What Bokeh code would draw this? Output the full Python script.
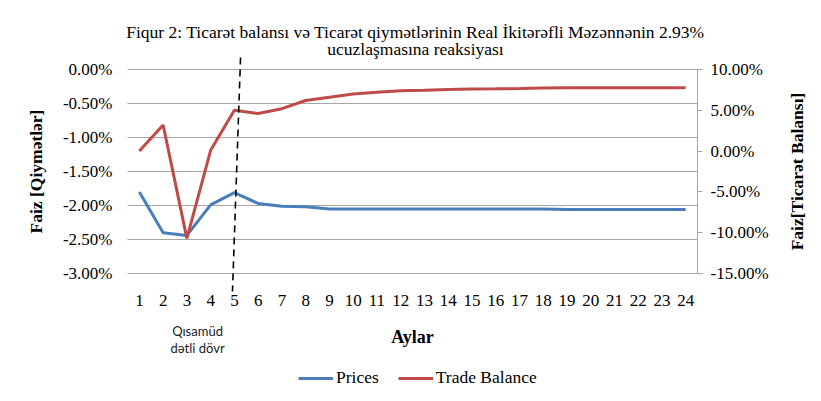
import math
from bokeh.plotting import figure
from bokeh.models import (Range1d, LinearAxis, FixedTicker, PrintfTickFormatter,
                          Legend, LegendItem, Arrow, ColumnDataSource, Label)
from bokeh.embed import file_html
from bokeh.resources import INLINE

# ---- data ----
months = list(range(1, 25))
month_labels = [str(m) for m in months]
prices = [-1.80, -2.40, -2.44, -1.99, -1.81, -1.97, -2.01, -2.02, -2.05, -2.05,
          -2.05, -2.05, -2.05, -2.05, -2.05, -2.05, -2.05, -2.05, -2.06, -2.06,
          -2.06, -2.06, -2.06, -2.06]
trade_balance = [0.0, 3.2, -10.7, 0.1, 5.0, 4.6, 5.2, 6.2, 6.6, 7.0,
                 7.2, 7.4, 7.45, 7.55, 7.6, 7.63, 7.67, 7.73, 7.76, 7.76,
                 7.76, 7.76, 7.76, 7.76]
left_ticks = [-3.0, -2.5, -2.0, -1.5, -1.0, -0.5, 0.0]
right_ticks = [-15.0, -10.0, -5.0, 0.0, 5.0, 10.0]
short_run_end = 5
note_pos = 3.45

title_1 = "Fiqur 2: Ticarət balansı və Ticarət qiymətlərinin Real İkitərəfli Məzənnənin 2.93%"
title_2 = "ucuzlaşmasına reaksiyası"
note_1 = "Qısamüd"
note_2 = "dətli dövr"
x_label = "Aylar"
left_label = "Faiz [Qiymətlər]"
right_label = "Faiz[Ticarət Balansı]"

SERIF = "Liberation Serif"
BLUE = "#4A7EBB"
RED = "#BE4B48"
GRID = "#A6A6A6"

# ---- geometry: the frame covers the whole canvas; the plot area is
#      x 0.5..24.5 and y -3..0 inside it ----
W, H = 821, 401
PX0, PX1, PY0, PY1 = 127, 697, 69, 273          # plot-area pixels
X0, X1 = 0.5, 24.5
Y_TOP, Y_BOT = 0.0, -3.0
R_TOP, R_BOT = 10.0, -15.0
xs = (PX1 - PX0) / (X1 - X0)
ys = (PY1 - PY0) / (Y_TOP - Y_BOT)
rs = (PY1 - PY0) / (R_TOP - R_BOT)
x_range = Range1d(X0 - PX0 / xs, X1 + (W - PX1) / xs)
y_range = Range1d(Y_BOT - (H - PY1) / ys, Y_TOP + PY0 / ys)
r_range = Range1d(R_BOT - (H - PY1) / rs, R_TOP + PY0 / rs)

def px_to_x(px):
    return X0 + (px - PX0) / xs

def py_to_y(py):
    return Y_TOP - (py - PY0) / ys

src = ColumnDataSource(dict(x=months, prices=prices, tb=trade_balance))

p = figure(width=W, height=H, x_range=x_range, y_range=y_range,
           output_backend="svg", toolbar_location=None,
           min_border=0, outline_line_color=None)
p.title.visible = False
p.extra_y_ranges = {"tb": r_range}

# grid lines (horizontal only, confined to the plot area)
p.xgrid.grid_line_color = None
p.ygrid.grid_line_color = None
p.segment(x0=[X0] * len(left_ticks), x1=[X1] * len(left_ticks),
          y0=left_ticks, y1=left_ticks, line_color=GRID, line_width=1)

r1 = p.line("x", "prices", source=src, line_color=BLUE, line_width=3)
r2 = p.line("x", "tb", source=src, line_color=RED, line_width=3, y_range_name="tb")

# x axis
xa = p.xaxis[0]
xa.fixed_location = Y_BOT
xa.bounds = (X0, X1)
xa.ticker = FixedTicker(ticks=months)
xa.major_label_overrides = {m: l for m, l in zip(months, month_labels)}
xa.axis_line_color = None
xa.major_tick_line_color = None
xa.major_tick_out = 0
xa.major_tick_in = 0
xa.minor_tick_line_color = None
xa.major_label_text_font = SERIF
xa.major_label_text_font_size = "17px"
xa.major_label_text_color = "black"
xa.major_label_standoff = 21
xa.axis_label = x_label
xa.axis_label_text_font = SERIF
xa.axis_label_text_font_style = "bold"
xa.axis_label_text_font_size = "18px"
xa.axis_label_text_color = "black"
xa.axis_label_standoff = 18

# left axis
ya = p.yaxis[0]
ya.fixed_location = X0
ya.bounds = (Y_BOT, Y_TOP)
ya.ticker = FixedTicker(ticks=left_ticks)
ya.formatter = PrintfTickFormatter(format="%.2f%%")
ya.axis_line_color = None
ya.major_tick_line_color = None
ya.major_tick_out = 0
ya.major_tick_in = 0
ya.minor_tick_line_color = None
ya.major_label_text_font = SERIF
ya.major_label_text_font_size = "17px"
ya.major_label_text_color = "black"
ya.major_label_standoff = 15
ya.axis_label = left_label
ya.axis_label_text_font = SERIF
ya.axis_label_text_font_style = "bold"
ya.axis_label_text_font_size = "17.5px"
ya.axis_label_text_color = "black"
ya.axis_label_standoff = 14

# right axis
ra = LinearAxis(y_range_name="tb", ticker=FixedTicker(ticks=right_ticks),
                formatter=PrintfTickFormatter(format="%.2f%%"),
                fixed_location=X1, bounds=(R_BOT, R_TOP))
ra.axis_line_color = GRID
ra.major_tick_line_color = GRID
ra.major_tick_in = 0
ra.major_tick_out = 5
ra.minor_tick_line_color = None
ra.major_label_text_font = SERIF
ra.major_label_text_font_size = "17px"
ra.major_label_text_color = "black"
ra.major_label_standoff = 8
p.add_layout(ra, "right")

p.add_layout(Label(x=px_to_x(796), y=(Y_TOP + Y_BOT) / 2, text=right_label,
                   angle=math.pi / 2, text_align="center", text_baseline="middle",
                   text_font=SERIF, text_font_style="bold", text_font_size="17.5px",
                   text_color="black"))

# dashed separator for the short-run period
p.add_layout(Arrow(end=None, x_start=short_run_end + 0.26, y_start=py_to_y(57),
                   x_end=short_run_end - 0.08, y_end=py_to_y(291),
                   line_color="black", line_width=1.6, line_dash="7 5"))

# titles
for txt, py in [(title_1, 31), (title_2, 48)]:
    p.add_layout(Label(x=px_to_x(415), y=py_to_y(py), text=txt, text_align="center",
                       text_baseline="alphabetic", text_font=SERIF,
                       text_font_size="17.5px", text_color="black"))

# short-run note
for txt, py in [(note_1, 330), (note_2, 347)]:
    p.add_layout(Label(x=note_pos, y=py_to_y(py), text=txt, text_align="center",
                       text_baseline="alphabetic", text_font="Lato",
                       text_font_size="13px", text_color="#222222"))

legend = Legend(items=[LegendItem(label="Prices", renderers=[r1]),
                       LegendItem(label="Trade Balance", renderers=[r2])],
                orientation="horizontal", location=(298, 13),
                border_line_color=None, background_fill_alpha=0,
                label_text_font=SERIF, label_text_font_size="17.5px",
                label_text_color="black",
                glyph_width=35, glyph_height=20, label_standoff=3, spacing=19,
                padding=0, margin=0)
p.add_layout(legend, "center")

open("out.html", "w").write(file_html(p, INLINE))
